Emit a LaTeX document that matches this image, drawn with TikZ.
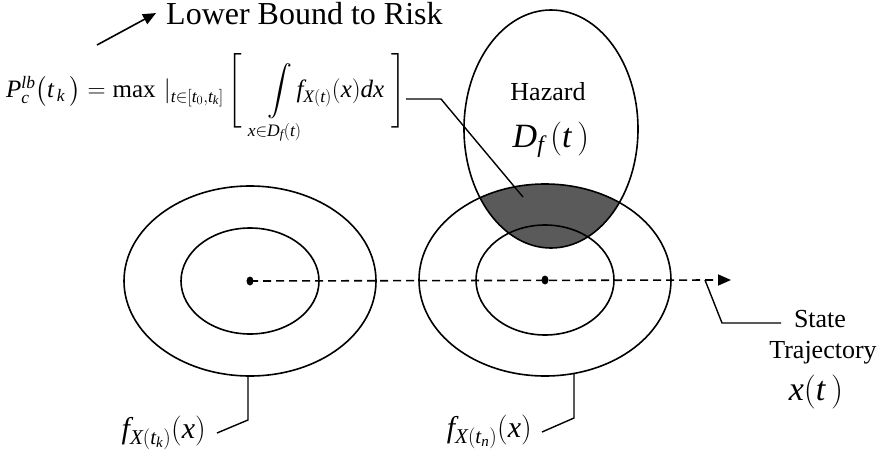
\RequirePackage{fix-cm}
\documentclass[tikz,border=0pt]{standalone}
\usepackage{amsmath}
\usepackage{mathtools}
\usepackage{fontspec}
\setmainfont{Liberation Serif}
\usetikzlibrary{arrows.meta}
\definecolor{hazgray}{HTML}{5A5A5A}
\newcommand{\mi}[1]{\mathit{#1}}

\begin{document}
\begin{tikzpicture}[
  x=1pt, y=-1pt,
  every node/.style={inner sep=0pt},
  ring/.style={line width=1.6pt},
  leader/.style={line width=1.4pt},
  pointer/.style={-{Triangle[length=13pt, width=11pt]}, line width=1.6pt},
  track/.style={dash pattern=on 8pt off 5pt, line width=1.6pt},
  big/.style={font=\fontsize{32}{36}\selectfont},
  mid/.style={font=\fontsize{26}{30}\selectfont},
  lbl/.style={font=\fontsize{30}{34}\selectfont}
]
\useasboundingbox (0,0) rectangle (884,463);
% centres of the densities and of the hazard
\coordinate (cL) at (250,281);
\coordinate (cR) at (545,280);
\coordinate (cH) at (551,129);
% overlap of hazard and density
\begin{scope}
  \clip (cH) ellipse [x radius=87, y radius=119];
  \fill[hazgray] (cR) ellipse [x radius=126, y radius=96];
\end{scope}
% density contours
\draw[ring] (cL) ellipse [x radius=126, y radius=95];
\draw[ring] (cL) ellipse [x radius=69, y radius=53];
\draw[ring] (cR) ellipse [x radius=126, y radius=96];
\draw[ring] (cR) ellipse [x radius=69, y radius=55];
\draw[ring] (cH) ellipse [x radius=87, y radius=119];
\fill (cL) ellipse [x radius=3.5, y radius=4.5];
\fill (cR) ellipse [x radius=3.5, y radius=4.5];
% state trajectory
\coordinate (tip) at (731,280);
\draw[track] (cL) -- (718,280);
\draw[pointer] (718,280) -- (tip);
% titles
\node[big, anchor=base west, inner xsep=10pt] (lbr) at (156,24) {Lower Bound to Risk};
\coordinate (lbtail) at (97,45);
\draw[pointer] (lbtail) -- (lbr.west);
\node[font=\fontsize{25}{30}\selectfont, anchor=east] (risk) at (406,99)
  {$\mi{P}_{\mi{c}}^{\mi{lb}}\bigl(\mi{t}_{\,\mi{k}}\,\bigr)=\max\,|_{\mi{t}\in[\mi{t}_0,\mi{t}_{\mi{k}}]}\,\Biggl[\quad\displaystyle\int\limits_{\mathclap{\mi{x}\in\mi{D}_{\mi{f}}(\mi{t})}}\mi{f}_{\mi{X}(\mi{t})}(\mi{x})\mi{dx}\;\Biggr]$};
\coordinate (rk) at (441,99);
\coordinate (rs) at (523,197);
\draw[leader] (risk.east) -- (rk) -- (rs);
\node[mid, anchor=base] (haz) at (548,100) {Hazard};
\node[font=\fontsize{34}{38}\selectfont, anchor=base] (hazD) at (551,147) {$\mi{D}_{\mi{f}}\,(\mi{t}\,)$};
% trajectory label
\coordinate (tb) at (705,280);
\coordinate (tk) at (722,323);
\coordinate (te) at (781,323);
\draw[leader] (tb) -- (tk) -- (te);
\node[mid, anchor=base] (state) at (820,327) {State};
\node[mid, anchor=base] (trajname) at (823,358) {Trajectory};
\node[font=\fontsize{34}{38}\selectfont, anchor=base] (xt) at (816,400) {$\mi{x}(\mi{t}\,)$};
% density labels
\node[lbl, anchor=east, inner xsep=11pt] (fk) at (217,433) {$\mi{f}_{\mi{X}(\mi{t}_{\mi{k}})}(\mi{x})$};
\node[lbl, anchor=east, inner xsep=10pt] (fn) at (542,432) {$\mi{f}_{\mi{X}(\mi{t}_{\mi{n}})}(\mi{x})$};
\coordinate (kL) at (248,376);
\coordinate (kR) at (574,373);
\draw[leader] (kL) -- (248,420) -- (fk.east);
\draw[leader] (kR) -- (574,418) -- (fn.east);
\end{tikzpicture}
\end{document}
